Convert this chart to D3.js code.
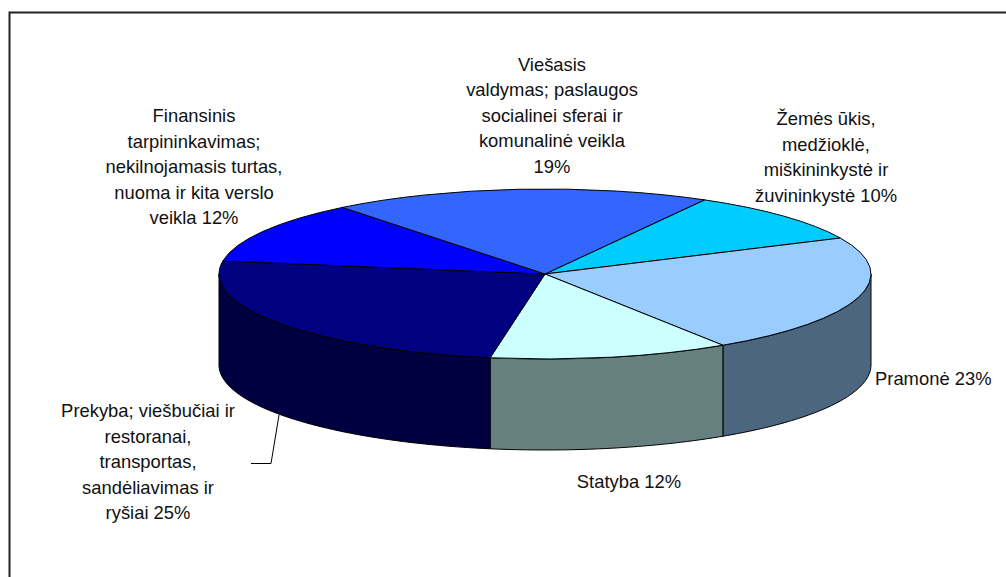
<!DOCTYPE html>
<html>
<head>
<meta charset="utf-8">
<script src="https://cdn.jsdelivr.net/npm/d3@7"></script>
<style>
    html, body { margin: 0; padding: 0; background: #fff; overflow: hidden; }
    svg { display: block; }
    text { font-family: "Liberation Sans", Arial, sans-serif; font-size: 18.4px; fill: #111; }
</style>
</head>
<body>
<div id="chart"></div>
<script>
// Data, clockwise from the back right
const categories = ["Žemės ūkis", "Pramonė", "Statyba", "Prekyba", "Finansinis", "Viešasis"];
const shares = [10, 23, 12, 25, 12, 19];
const topColors = ["#00CCFF", "#99CCFF", "#CCFFFF", "#000080", "#0000FF", "#3366FF"];
const sideColors = ["#006680", "#4D6680", "#668080", "#000040", "#000080", "#1A3380"];
const labelLines = [
    ["Žemės ūkis,", "medžioklė,", "miškininkystė ir", "žuvininkystė 10%"],
    ["Pramonė 23%"],
    ["Statyba 12%"],
    ["Prekyba; viešbučiai ir", "restoranai,", "transportas,", "sandėliavimas ir", "ryšiai 25%"],
    ["Finansinis", "tarpininkavimas;", "nekilnojamasis turtas,", "nuoma ir kita verslo", "veikla 12%"],
    ["Viešasis", "valdymas; paslaugos", "socialinei sferai ir", "komunalinė veikla", "19%"]
];

// Dimensions
const width = 1006, height = 577;
const cx = 545, cy = 274, rx = 326, ry = 85, depth = 91;
const lineHeight = 25.6;

// Label anchor: x, first baseline
const labelPos = [
    { x: 826, y: 125, anchor: "middle" },
    { x: 875, y: 385, anchor: "start" },
    { x: 629, y: 488, anchor: "middle" },
    { x: 148, y: 417, anchor: "middle" },
    { x: 194, y: 122, anchor: "middle" },
    { x: 552, y: 70.5, anchor: "middle" }
];

const svg = d3.select("#chart")
    .append("svg")
    .attr("width", width)
    .attr("height", height);

// Outer frame, only top and left are inside the picture
svg.append("path")
    .attr("d", d3.line()([[9.5, height], [9.5, 12.5], [width, 12.5]]))
    .attr("fill", "none")
    .attr("stroke", "#222")
    .attr("stroke-width", 2);

const startAngle = 29.3 * Math.PI / 180;
const pie = d3.pie()
    .value(d => d)
    .sort(null)
    .startAngle(startAngle)
    .endAngle(startAngle + 2 * Math.PI);
const arcs = pie(shares);

// Side walls, only the front half of the rim can be seen
const rimX = a => cx + rx * Math.sin(a);
const rimY = a => cy - ry * Math.cos(a);
const line = d3.line();
const sides = svg.append("g");

arcs.forEach((d, i) => {
    const a0 = Math.max(d.startAngle, Math.PI / 2);
    const a1 = Math.min(d.endAngle, 3 * Math.PI / 2);
    if (a1 <= a0) return;
    const steps = d3.range(0, 61).map(k => a0 + (a1 - a0) * k / 60);
    const rimTop = steps.map(a => [rimX(a), rimY(a)]);
    const rimBottom = steps.map(a => [rimX(a), rimY(a) + depth]).reverse();
    sides.append("path")
        .attr("d", line(rimTop.concat(rimBottom)) + "Z")
        .attr("fill", sideColors[i])
        .attr("stroke", "#000")
        .attr("stroke-width", 1);
});

// Top face
const arc = d3.arc().innerRadius(0).outerRadius(rx);
svg.append("g")
    .attr("transform", `translate(${cx}, ${cy}) scale(1, ${ry / rx})`)
    .selectAll("path")
    .data(arcs)
    .join("path")
    .attr("d", arc)
    .attr("fill", (d, i) => topColors[i])
    .attr("stroke", "#000")
    .attr("stroke-width", 1)
    .attr("vector-effect", "non-scaling-stroke");

// Leader line of the Prekyba label
svg.append("path")
    .attr("d", line([[251, 463.5], [271, 463.5], [279, 415]]))
    .attr("fill", "none")
    .attr("stroke", "#000")
    .attr("stroke-width", 1);

// Labels
labelLines.forEach((lines, i) => {
    const text = svg.append("text")
        .attr("text-anchor", labelPos[i].anchor);
    lines.forEach((l, j) => {
        text.append("tspan")
            .attr("x", labelPos[i].x)
            .attr("y", labelPos[i].y + j * lineHeight)
            .text(l);
    });
});
</script>
</body>
</html>
